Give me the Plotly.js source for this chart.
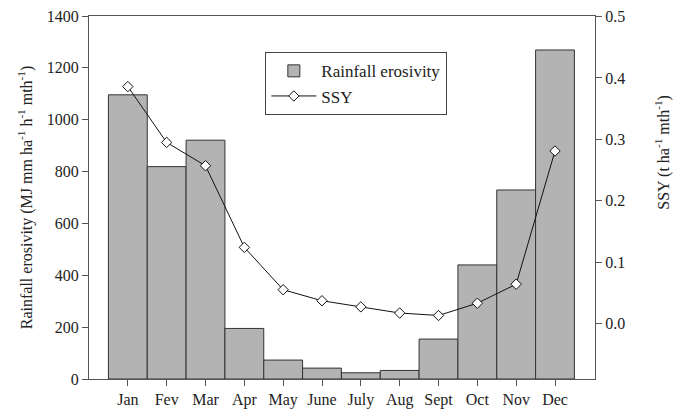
<!DOCTYPE html>
<html>
<head>
<meta charset="utf-8">
<script src="https://cdn.plot.ly/plotly-3.0.1.min.js"></script>
<style>html,body{margin:0;padding:0;background:#fff;}#chart{width:686px;height:412px;}</style>
</head>
<body>
<div id="chart"></div>
<script>
var months = ["Jan","Fev","Mar","Apr","May","June","July","Aug","Sept","Oct","Nov","Dec"];
var erosivity = [1096, 819, 921, 195, 73, 42, 24, 33, 154, 440, 729, 1269];
var ssy = [0.386, 0.295, 0.257, 0.124, 0.055, 0.037, 0.027, 0.017, 0.013, 0.033, 0.064, 0.281];
var leftTicks = [0, 200, 400, 600, 800, 1000, 1200, 1400];
var rightTicks = [0.0, 0.1, 0.2, 0.3, 0.4, 0.5];
var rightTickText = ["0.0", "0.1", "0.2", "0.3", "0.4", "0.5"];

var serif = "Liberation Serif, Times New Roman, serif";
var ink = "#222222";
var axisCol = "#555555";

var traces = [
  {
    type: "bar",
    name: "Rainfall erosivity",
    x: months,
    y: erosivity,
    width: 1,
    marker: {color: "#b3b3b3", line: {color: "#333333", width: 1}},
    yaxis: "y"
  },
  {
    type: "scatter",
    mode: "lines+markers",
    name: "SSY",
    x: months,
    y: ssy,
    yaxis: "y2",
    line: {color: "#111111", width: 1},
    marker: {symbol: "diamond", size: 8, color: "#ffffff", line: {color: "#111111", width: 1}}
  }
];

var layout = {
  width: 686, height: 412,
  margin: {l: 89, r: 90.5, t: 16, b: 32.7},
  paper_bgcolor: "#ffffff", plot_bgcolor: "#ffffff",
  font: {family: serif, size: 16, color: ink},
  showlegend: true,
  bargap: 0,
  xaxis: {
    type: "category",
    range: [-1.0, 12.03],
    showline: true, linecolor: axisCol, linewidth: 1, mirror: true,
    ticks: "outside", ticklen: 6, tickcolor: axisCol,
    showgrid: false, zeroline: false,
    tickfont: {family: serif, size: 16, color: ink}
  },
  yaxis: {
    range: [0, 1400],
    tickvals: leftTicks,
    showline: true, linecolor: axisCol, linewidth: 1,
    ticks: "outside", ticklen: 6, tickcolor: axisCol,
    showgrid: false, zeroline: false,
    tickfont: {family: serif, size: 16, color: ink},
    title: {text: "Rainfall erosivity (MJ mm ha<sup>-1</sup> h<sup>-1</sup> mth<sup>-1</sup>)", font: {family: serif, size: 16, color: ink}, standoff: 10}
  },
  yaxis2: {
    overlaying: "y", side: "right",
    range: [-0.0905, 0.501],
    tickvals: rightTicks, ticktext: rightTickText,
    showline: true, linecolor: axisCol, linewidth: 1,
    ticks: "outside", ticklen: 6, tickcolor: axisCol,
    showgrid: false, zeroline: false,
    tickfont: {family: serif, size: 16, color: ink}
  },
  legend: {
    x: 0.3485, y: 0.900, xanchor: "left", yanchor: "top",
    bgcolor: "#ffffff", bordercolor: "#444444", borderwidth: 1,
    font: {family: serif, size: 17, color: ink},
    itemwidth: 45, tracegroupgap: 0
  },
  annotations: [
    {
      xref: "paper", yref: "paper", x: 1.134, y: 0.6257,
      xanchor: "center", yanchor: "middle", textangle: -90, showarrow: false,
      text: "SSY (t ha<sup>-1</sup> mth<sup>-1</sup>)",
      font: {family: serif, size: 16, color: ink}
    }
  ]
};

Plotly.newPlot("chart", traces, layout, {displayModeBar: false, staticPlot: true});
</script>
</body>
</html>
